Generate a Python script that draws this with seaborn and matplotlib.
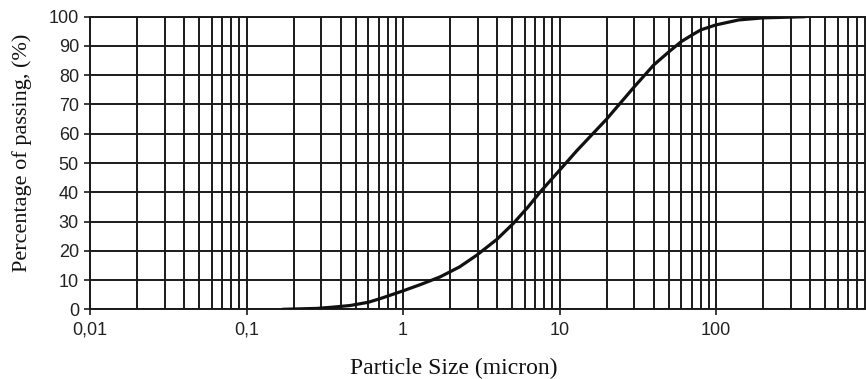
import matplotlib
matplotlib.use("Agg")
import matplotlib.pyplot as plt
import matplotlib.ticker as mticker
import numpy as np
import pandas as pd
import seaborn as sns

# Data
particle_size = [0.17, 0.28, 0.35, 0.46, 0.6, 0.72, 1.0, 1.3, 1.73, 2.3, 2.96,
                 4.0, 5.08, 6.3, 7.53, 10, 12.9, 20, 30, 40, 50, 60, 70, 80,
                 100, 140, 200, 370]
passing = [0, 0.3, 0.7, 1.3, 2.4, 3.7, 6.3, 8.5, 11.1, 14.5, 18.5,
           24, 29.4, 35, 40.1, 47.5, 54.2, 65, 76, 83.5, 88, 91.5, 93.7, 95.5,
           97.2, 98.9, 99.6, 100]
x_tick_values = [0.01, 0.1, 1, 10, 100]
x_tick_labels = ["0,01", "0,1", "1", "10", "100"]
y_tick_values = [0, 10, 20, 30, 40, 50, 60, 70, 80, 90, 100]

df = pd.DataFrame({"size": particle_size, "passing": passing})

sns.set_style("white")
plt.rcParams["font.family"] = ["Liberation Sans", "DejaVu Sans"]

W, H = 866, 379
fig = plt.figure(figsize=(W / 100, H / 100), dpi=100)
left, right, top, bottom = 90, 872.5, 16.7, 309.3
ax = fig.add_axes([left / W, 1 - bottom / H, (right - left) / W, (bottom - top) / H])

sns.lineplot(data=df, x="size", y="passing", ax=ax, color="#111111",
             linewidth=2.3, zorder=5)

ax.set_xscale("log")
ax.set_xlim(0.01, 1000)
ax.set_ylim(0, 100)

ax.xaxis.set_major_locator(mticker.FixedLocator(x_tick_values))
ax.xaxis.set_major_formatter(mticker.FixedFormatter(x_tick_labels))
ax.xaxis.set_minor_locator(mticker.LogLocator(base=10, subs=np.arange(2, 10)))
ax.xaxis.set_minor_formatter(mticker.NullFormatter())
ax.set_yticks(y_tick_values)

grid_kw = dict(color="#1a1a1a", linewidth=1.4)
ax.grid(True, which="major", axis="both", **grid_kw)
ax.grid(True, which="minor", axis="x", **grid_kw)
ax.set_axisbelow(True)

for s in ax.spines.values():
    s.set_color("#1a1a1a")
    s.set_linewidth(1.4)

ax.tick_params(axis="both", which="major", direction="out", length=4, width=1.2,
               color="#1a1a1a", labelsize=13, labelcolor="#222222")
ax.tick_params(axis="x", which="major", pad=5, bottom=True)
ax.tick_params(axis="y", which="major", pad=4, left=True)
ax.tick_params(axis="x", which="minor", length=0)

ax.set_xlabel("Particle Size (micron)", family=["Liberation Serif", "DejaVu Serif"],
              fontsize=17, color="#111111")
ax.set_ylabel("Percentage of passing, (%)", family=["Liberation Serif", "DejaVu Serif"],
              fontsize=16, color="#111111")
ax.xaxis.set_label_coords((454 - left) / (right - left), -(368 - bottom) / (bottom - top),
                          transform=ax.transAxes)
ax.yaxis.set_label_coords(-(left - 22) / (right - left), (bottom - 153) / (bottom - top),
                          transform=ax.transAxes)
ax.xaxis.label.set_va("center")
ax.yaxis.label.set_va("center")

fig.savefig("out.png", dpi=100)
